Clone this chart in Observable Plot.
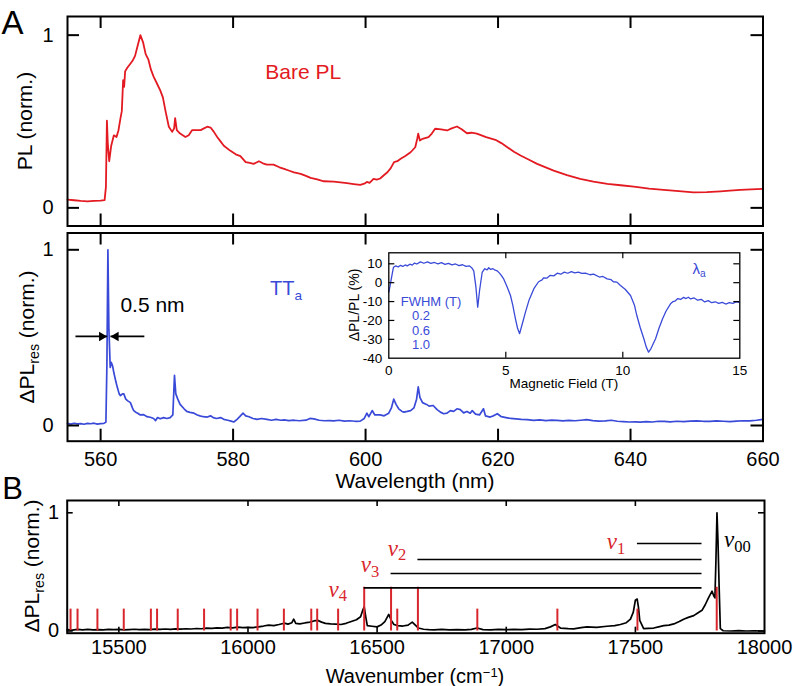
<!DOCTYPE html>
<html><head><meta charset="utf-8">
<script src="https://cdn.jsdelivr.net/npm/d3@7"></script>
<script src="https://cdn.jsdelivr.net/npm/@observablehq/plot@0.6"></script>
<style>
body{margin:0;background:#fff;}
#fig{position:relative;width:793px;height:686px;overflow:hidden;background:#fff;font-family:"Liberation Sans",Arial,Helvetica,sans-serif;color:#000;}
#fig svg{position:absolute;background:transparent;max-width:none;}
.t{position:absolute;white-space:nowrap;line-height:1;transform:translate(-50%,-50%);}
.sub{font-size:0.68em;position:relative;top:0.34em;}
.sup{font-size:0.65em;position:relative;top:-0.5em;}
.nu{font-family:"Liberation Serif","DejaVu Serif",serif;font-style:italic;}
.nu .s{font-style:normal;font-size:0.72em;position:relative;top:0.3em;}
</style></head><body><div id="fig"></div>
<script>
// ---------- DATA ----------
// Panel A (top): bare PL, wavelength (nm) and normalised PL
const plWavelength = [555,556,557,558,559,560,560.6,560.8,560.95,561.1,561.3,561.6,562.0,562.4,562.7,563.0,563.2,563.4,563.55,563.7,564.0,564.4,564.8,565.2,565.6,566.0,566.4,566.8,567.2,567.6,568.0,568.5,569.0,569.4,569.8,570.3,570.8,571.1,571.25,571.5,572.0,572.8,573.3,573.8,574.5,575.1,575.6,576.1,576.6,577.1,577.6,578.1,578.6,579.6,580.4,581.1,581.9,582.5,583.1,583.9,584.5,585.1,586.1,587.0,587.7,588.5,589.2,590.2,591.0,591.7,592.7,593.7,595.2,596.2,597.2,598.2,599.2,599.8,600.2,600.6,601.2,601.7,602.2,602.8,603.3,603.8,604.3,604.8,605.3,606.0,606.8,607.5,607.8,607.95,608.2,608.6,609.5,610.0,610.5,611.4,612.3,613.0,613.8,614.5,615.3,616.0,616.8,618.2,619.6,620.5,621.4,622.4,623.4,624.6,625.9,627.1,628.4,630.4,632.4,634.4,636.5,638.5,640.5,642.8,645.0,647.3,649.5,651.5,653.6,655.0,656.6,658.2,660.0];
const plValue = [0.048,0.044,0.040,0.038,0.040,0.042,0.045,0.12,0.505,0.36,0.27,0.36,0.42,0.41,0.45,0.52,0.56,0.74,0.70,0.79,0.81,0.83,0.85,0.88,0.94,1.0,0.96,0.89,0.86,0.80,0.76,0.72,0.68,0.64,0.56,0.47,0.44,0.46,0.52,0.45,0.43,0.41,0.42,0.45,0.45,0.45,0.46,0.47,0.465,0.44,0.41,0.385,0.36,0.33,0.31,0.30,0.265,0.26,0.255,0.27,0.258,0.25,0.25,0.235,0.226,0.215,0.206,0.197,0.185,0.174,0.165,0.154,0.152,0.148,0.143,0.138,0.133,0.14,0.15,0.145,0.168,0.163,0.17,0.19,0.206,0.23,0.265,0.27,0.284,0.30,0.322,0.351,0.40,0.43,0.39,0.40,0.41,0.43,0.458,0.455,0.448,0.46,0.471,0.455,0.432,0.435,0.43,0.41,0.394,0.375,0.351,0.325,0.303,0.28,0.255,0.236,0.216,0.19,0.168,0.152,0.139,0.131,0.123,0.112,0.104,0.097,0.09,0.091,0.096,0.10,0.104,0.107,0.11];

// Panel A (bottom): resonant ΔPL of TTa
const ttWavelength = [555,555.5,556,556.5,557,557.5,558,558.5,559,559.5,560,560.5,560.8,560.95,561.1,561.25,561.45,561.6,561.8,562.0,562.3,562.5,562.8,563.0,563.3,563.5,563.8,564.1,564.5,564.8,565.0,565.3,565.6,566.0,566.5,567.0,567.5,568.0,568.3,568.6,569.0,569.5,570.0,570.5,570.9,571.15,571.35,571.65,572.0,572.6,573.0,573.5,574.1,574.6,575.0,575.5,576.1,576.6,577.0,577.5,578.1,578.6,579.2,579.7,580.1,580.6,581.0,581.5,581.9,582.4,583.0,583.6,584.3,585.1,585.8,586.5,587.2,587.7,588.4,589.2,590.0,591.0,591.6,592.2,593.0,593.8,594.5,595.2,596.0,596.8,597.6,598.4,599.2,599.8,600.2,600.5,601.0,601.4,602.2,602.8,603.5,603.9,604.25,604.6,605.0,605.5,605.8,606.3,606.8,607.3,607.7,607.95,608.2,608.6,609.2,609.6,610.2,610.8,611.3,611.8,612.3,612.8,613.3,613.8,614.3,614.8,615.3,615.8,616.1,616.6,617.2,617.8,618.1,618.8,619.3,619.9,620.5,621.2,621.9,622.7,623.5,624.4,625.4,626.3,627.2,628.1,628.9,629.8,630.7,631.6,632.5,633.4,634.3,635.2,636.2,637.1,638.0,638.9,639.8,640.7,641.5,642.4,643.3,644.2,645.1,646.0,647.0,648.0,649.0,650.0,651.0,652.0,653.0,654.0,655.0,656.0,657.0,658.0,659.0,660.0];
const ttValue = [0.012,0.008,0.013,0.009,0.011,0.007,0.012,0.010,0.013,0.008,0.011,0.012,0.02,0.35,1.0,0.55,0.33,0.36,0.34,0.30,0.25,0.22,0.18,0.17,0.18,0.18,0.15,0.14,0.13,0.10,0.085,0.076,0.07,0.06,0.062,0.05,0.047,0.04,0.028,0.045,0.038,0.045,0.04,0.045,0.06,0.285,0.18,0.15,0.12,0.095,0.08,0.075,0.07,0.06,0.055,0.05,0.048,0.055,0.045,0.04,0.045,0.035,0.03,0.025,0.02,0.035,0.05,0.07,0.055,0.05,0.04,0.035,0.04,0.035,0.03,0.035,0.03,0.032,0.028,0.03,0.027,0.03,0.04,0.038,0.03,0.027,0.028,0.026,0.03,0.025,0.027,0.024,0.025,0.04,0.07,0.05,0.085,0.06,0.06,0.055,0.07,0.10,0.15,0.12,0.095,0.08,0.076,0.08,0.085,0.10,0.15,0.22,0.16,0.13,0.12,0.11,0.114,0.09,0.076,0.067,0.07,0.085,0.08,0.095,0.09,0.072,0.08,0.07,0.085,0.065,0.06,0.095,0.055,0.048,0.055,0.067,0.05,0.045,0.04,0.038,0.035,0.033,0.029,0.032,0.028,0.03,0.029,0.026,0.029,0.027,0.03,0.033,0.028,0.025,0.026,0.03,0.024,0.022,0.02,0.021,0.019,0.022,0.02,0.024,0.023,0.021,0.024,0.022,0.025,0.026,0.024,0.023,0.026,0.024,0.022,0.025,0.027,0.026,0.03,0.035];

// FWHM marker of the 561 nm line
const fwhmLevel = 0.507;
const fwhmArrowFrom = [556.2, 566.6];
const fwhmArrowTo = [560.99, 561.49];

// Inset: [magnetic field (T), ΔPL/PL (%)]
const insetPoints = [[0,-5],[0.05,-2],[0.12,3],[0.2,8.2],[0.3,8.9],[0.4,8.3],[0.5,9.2],[0.6,8.6],[0.7,9.4],[0.79,8.9],[0.9,9.8],[1.0,9.3],[1.1,10.4],[1.2,9.9],[1.35,11.0],[1.5,10.3],[1.65,11.0],[1.8,10.2],[1.95,10.7],[2.1,10.0],[2.25,10.6],[2.4,9.7],[2.55,10.2],[2.7,9.4],[2.85,9.9],[3.0,9.0],[3.15,9.5],[3.3,8.6],[3.45,8.9],[3.55,7.8],[3.63,6.3],[3.72,-2],[3.8,-13],[3.88,-4],[3.99,5.4],[4.1,7.4],[4.2,6.8],[4.27,7.9],[4.35,7.0],[4.45,7.4],[4.55,6.6],[4.63,6.3],[4.72,5.2],[4.8,4.0],[4.91,2.0],[5.05,-2],[5.2,-6.8],[5.3,-12],[5.41,-19],[5.5,-24],[5.59,-27],[5.7,-22],[5.84,-15.6],[6.0,-9],[6.2,-3.2],[6.4,0.5],[6.55,1.5],[6.62,2.6],[6.75,2.4],[6.9,3.9],[7.05,3.6],[7.2,5.0],[7.35,4.5],[7.5,5.6],[7.65,5.0],[7.8,5.9],[7.95,5.2],[8.1,5.6],[8.25,4.9],[8.4,5.1],[8.6,4.2],[8.75,4.5],[9.0,3.0],[9.15,3.3],[9.33,2.0],[9.5,1.6],[9.6,0.5],[9.75,0.3],[9.9,-1.5],[10.1,-3.5],[10.33,-6.8],[10.5,-12],[10.6,-17.4],[10.75,-24],[10.9,-29.7],[11.0,-34],[11.1,-36.8],[11.2,-35],[11.4,-29.7],[11.55,-24],[11.7,-19.1],[11.85,-15],[12.04,-11.2],[12.15,-10.0],[12.25,-9.6],[12.35,-8.4],[12.47,-8.9],[12.6,-7.8],[12.7,-8.4],[12.8,-7.7],[12.9,-8.6],[13.05,-8.1],[13.2,-9.3],[13.35,-8.8],[13.5,-10.2],[13.65,-9.5],[13.8,-10.6],[13.95,-10.1],[14.1,-11.0],[14.25,-10.4],[14.4,-11.3],[14.55,-10.6],[14.7,-11.0],[14.85,-10.2],[14.96,-10.4]];

// Panel B: ΔPL_res versus wavenumber (cm^-1)
const bWavenumber = [15300,15320,15340,15360,15380,15400,15420,15440,15460,15480,15500,15520,15540,15560,15580,15600,15620,15640,15660,15680,15700,15720,15740,15760,15780,15800,15820,15840,15860,15880,15900,15920,15940,15960,15980,16000,16020,16040,16060,16080,16100,16120,16140,16155,16170,16177,16185,16200,16220,16240,16255,16270,16285,16300,16320,16340,16360,16380,16400,16420,16436,16445,16450,16456,16462,16480,16500,16515,16530,16545,16555,16565,16580,16600,16620,16636,16648,16660,16680,16700,16720,16750,16780,16810,16840,16865,16887,16910,16940,16970,17000,17030,17060,17090,17120,17150,17171,17190,17210,17240,17261,17290,17313,17350,17390,17420,17442,17465,17481,17492,17500,17507,17512,17517,17532,17550,17571,17590,17610,17630,17649,17670,17687,17705,17726,17740,17758,17770,17784,17797,17803,17808,17812,17816,17820,17824,17829,17840,17870,17900,17930,17960,18000];
const bValue = [0.012,0.008,0.014,0.01,0.013,0.009,0.012,0.01,0.014,0.011,0.013,0.009,0.012,0.015,0.011,0.014,0.012,0.016,0.013,0.017,0.014,0.018,0.016,0.019,0.017,0.021,0.019,0.024,0.022,0.026,0.024,0.03,0.027,0.032,0.028,0.031,0.029,0.035,0.042,0.05,0.046,0.055,0.066,0.058,0.07,0.1,0.065,0.06,0.068,0.075,0.085,0.09,0.075,0.065,0.06,0.058,0.055,0.065,0.08,0.095,0.12,0.18,0.205,0.12,0.045,0.04,0.035,0.05,0.08,0.14,0.09,0.055,0.045,0.042,0.05,0.075,0.05,0.025,0.015,0.012,0.01,0.013,0.009,0.012,0.01,0.014,0.025,0.012,0.01,0.013,0.011,0.014,0.012,0.016,0.015,0.02,0.035,0.055,0.025,0.02,0.018,0.028,0.035,0.03,0.04,0.045,0.055,0.07,0.1,0.16,0.26,0.27,0.2,0.09,0.02,0.022,0.025,0.035,0.045,0.05,0.06,0.08,0.1,0.115,0.13,0.15,0.175,0.22,0.285,0.337,0.3,0.28,0.6,1.0,0.75,0.4,0.02,0.002,0.0,0.003,0.0,0.002,0.0];

// Panel B: calculated vibronic positions (red sticks)
const stickShort = [15313,15340,15417,15519,15624,15648,15728,15830,15933,15958,16037,16139,16245,16268,16349,16578,16888,17198,17508];
const stickTall = [16450,16554,16658,17815];
const stickShortHeight = 0.185;
const stickTallHeight = 0.37;

// Panel B: progression bars (ν1, ν2, ν3, ν4)
const progStart = [17508, 16658, 16554, 16450];
const progEnd = 17758;
const progLevel = [0.74, 0.605, 0.487, 0.365];

// Tick values
const aXTicks = [560, 580, 600, 620, 640, 660];
const aYTicks = [0, 1];
const bXTicks = [15500, 16000, 16500, 17000, 17500, 18000];
const bYTicks = [0, 1];
const inXTicks = [0, 5, 10, 15];
const inYTicks = [-40, -30, -20, -10, 0, 10];

// ---------- DRAWING ----------
const FONT = '"Liberation Sans", Arial, Helvetica, sans-serif';
const RED = "#e31a22", BLUE = "#3a4ad8", STICK = "#d8262c";
const fig = document.getElementById("fig");
const zip = (xs, ys) => xs.map((x, i) => ({x, y: ys[i]}));

function place(svg, left, top) {
  svg.style.left = left + "px";
  svg.style.top = top + "px";
  fig.appendChild(svg);
}
function frameTicks(xt, yt, fw, fh, len, sw) {
  const o = {stroke: "#000", strokeWidth: sw};
  return [
    Plot.ruleX(xt, {x: d => d, insetBottom: fh - len, ...o}),
    Plot.ruleX(xt, {x: d => d, insetTop: fh - len, ...o}),
    Plot.ruleY(yt, {y: d => d, insetRight: fw - len, ...o}),
    Plot.ruleY(yt, {y: d => d, insetLeft: fw - len, ...o})
  ];
}
function label(html, cx, cy, size, opts = {}) {
  const d = document.createElement("div");
  d.className = "t";
  d.innerHTML = html;
  d.style.left = cx + "px";
  d.style.top = cy + "px";
  d.style.fontSize = size + "px";
  if (opts.lh) d.style.lineHeight = opts.lh;
  if (opts.color) d.style.color = opts.color;
  if (opts.rotate) d.style.transform = "translate(-50%,-50%) rotate(-90deg)";
  if (opts.start) d.style.transform = "translate(0,-50%)";
  fig.appendChild(d);
}

// Panel A top
{
  const W = 793, H = 232, ml = 67, mr = 793 - 762.5, mt = 16, mb = 232 - 225.5;
  const fw = W - ml - mr, fh = H - mt - mb;
  place(Plot.plot({
    width: W, height: H, marginLeft: ml, marginRight: mr, marginTop: mt, marginBottom: mb,
    x: {domain: [555, 660], axis: null}, y: {domain: [-0.105, 1.108], axis: null},
    style: {fontFamily: FONT, background: "transparent", overflow: "visible"},
    marks: [
      Plot.line(zip(plWavelength, plValue), {x: "x", y: "y", stroke: RED, strokeWidth: 1.8}),
      ...frameTicks(aXTicks.slice(0, 5), aYTicks, fw, fh, 12, 2),
      Plot.frame({stroke: "#000", strokeWidth: 2}),
      Plot.text(aYTicks, {y: d => d, frameAnchor: "left", dx: -14, textAnchor: "end", text: d => String(d), fontSize: 20})
    ]
  }), 0, 0);
}

// Panel A bottom
{
  const W = 793, H = 265, ml = 67, mr = 793 - 762.5, mt = 4.5, mb = 52.3;
  const fw = W - ml - mr, fh = H - mt - mb;
  const shafts = fwhmArrowFrom.map((f, i) => ({x1: f, x2: fwhmArrowTo[i], y: fwhmLevel}));
  place(Plot.plot({
    width: W, height: H, marginLeft: ml, marginRight: mr, marginTop: mt, marginBottom: mb,
    x: {domain: [555, 660], axis: null}, y: {domain: [-0.0894, 1.0956], axis: null},
    style: {fontFamily: FONT, background: "transparent", overflow: "visible"},
    marks: [
      Plot.line(zip(ttWavelength, ttValue), {x: "x", y: "y", stroke: BLUE, strokeWidth: 1.7}),
      Plot.link(shafts, {x1: "x1", x2: "x2", y1: "y", y2: "y", stroke: "#000", strokeWidth: 1.6}),
      Plot.dot(shafts.slice(0, 1), {x: "x2", y: "y", symbol: "triangle", rotate: 90, r: 3.5, dx: -5.4, fill: "#000", stroke: null}),
      Plot.dot(shafts.slice(1), {x: "x2", y: "y", symbol: "triangle", rotate: -90, r: 3.5, dx: 5.4, fill: "#000", stroke: null}),
      ...frameTicks(aXTicks.slice(0, 5), aYTicks, fw, fh, 12, 2),
      Plot.frame({stroke: "#000", strokeWidth: 2}),
      Plot.text(aYTicks, {y: d => d, frameAnchor: "left", dx: -14, textAnchor: "end", text: d => String(d), fontSize: 20}),
      Plot.text(aXTicks, {x: d => d, frameAnchor: "bottom", lineAnchor: "top", dy: 11, text: d => String(d), fontSize: 20})
    ]
  }), 0, 228);
}

// Inset
{
  const W = 430, H = 150, ml = 58.3, mr = 20.7, mt = 7.3, mb = 37.3;
  const fw = W - ml - mr, fh = H - mt - mb;
  place(Plot.plot({
    width: W, height: H, marginLeft: ml, marginRight: mr, marginTop: mt, marginBottom: mb,
    x: {domain: [0, 15], axis: null}, y: {domain: [-40, 15.83], axis: null},
    style: {fontFamily: FONT, background: "transparent", overflow: "visible"},
    marks: [
      Plot.line(insetPoints, {x: d => d[0], y: d => d[1], stroke: BLUE, strokeWidth: 1.3}),
      ...frameTicks([5, 10], [-30, -20, -10, 0, 10], fw, fh, 6, 1.2),
      Plot.frame({stroke: "#000", strokeWidth: 1.3}),
      Plot.text(inYTicks, {y: d => d, frameAnchor: "left", dx: -6.5, textAnchor: "end", text: d => String(d), fontSize: 13.5}),
      Plot.text(inXTicks, {x: d => d, frameAnchor: "bottom", lineAnchor: "top", dy: 7, text: d => String(d), fontSize: 13.5})
    ]
  }), 330, 245);
}

// Panel B
{
  const W = 793, H = 191, ml = 66.7, mr = 29, mt = 5, mb = 53.3;
  const fw = W - ml - mr, fh = H - mt - mb;
  place(Plot.plot({
    width: W, height: H, marginLeft: ml, marginRight: mr, marginTop: mt, marginBottom: mb,
    x: {domain: [15300, 18000], axis: null}, y: {domain: [-0.0186, 1.104], axis: null},
    style: {fontFamily: FONT, background: "transparent", overflow: "visible"},
    marks: [
      Plot.line(zip(bWavenumber, bValue), {x: "x", y: "y", stroke: "#000", strokeWidth: 1.7}),
      Plot.ruleX(stickShort, {x: d => d, y1: 0, y2: stickShortHeight, stroke: STICK, strokeWidth: 2}),
      Plot.ruleX(stickTall, {x: d => d, y1: 0, y2: stickTallHeight, stroke: STICK, strokeWidth: 2}),
      Plot.ruleY(progStart.map((s, i) => ({x1: s, x2: progEnd, y: progLevel[i]})), {x1: "x1", x2: "x2", y: "y", stroke: "#000", strokeWidth: 1.6}),
      ...frameTicks(bXTicks.slice(0, 5), bYTicks, fw, fh, 6, 1.6),
      Plot.frame({stroke: "#000", strokeWidth: 2}),
      Plot.text(bYTicks, {y: d => d, frameAnchor: "left", dx: -8, textAnchor: "end", text: d => String(d), fontSize: 20}),
      Plot.text(bXTicks, {x: d => d, frameAnchor: "bottom", lineAnchor: "top", dy: 6.5, text: d => String(d), fontSize: 20})
    ]
  }), 0, 495);
}

// ---------- TEXT ----------
label("A", 12.5, 21.5, 33);
label("B", 12.5, 487.5, 31);
label("PL (norm.)", 23.5, 120.7, 21, {rotate: true});
label('ΔPL<span class="sub">res</span> (norm.)', 26, 336.6, 21, {rotate: true});
label('ΔPL<span class="sub">res</span> (norm.)', 30.5, 566, 21, {rotate: true});
label("Bare PL", 303.3, 70.8, 21, {color: RED});
label('TT<span class="sub">a</span>', 286, 288, 20, {color: BLUE});
label("0.5 nm", 152.5, 303.5, 21);
label("Wavelength (nm)", 415, 480, 21);
label('Wavenumber (cm<span class="sup">−1</span>)', 415, 676, 20);
label("ΔPL/PL (%)", 354, 305, 14, {rotate: true});
label("Magnetic Field (T)", 563.8, 384, 13.5);
label("FWHM (T)", 400.7, 300.5, 13, {color: BLUE, start: true});
label("0.2", 421, 315, 13, {color: BLUE});
label("0.6", 421, 329.5, 13, {color: BLUE});
label("1.0", 421, 344, 13, {color: BLUE});
label('λ<span class="sub">a</span>', 699, 269, 15, {color: BLUE});
label('<span class="nu">ν<span class="s">1</span></span>', 616, 541, 23, {color: STICK});
label('<span class="nu">ν<span class="s">2</span></span>', 397, 547.5, 23, {color: STICK});
label('<span class="nu">ν<span class="s">3</span></span>', 370, 564, 23, {color: STICK});
label('<span class="nu">ν<span class="s">4</span></span>', 337.7, 588.5, 23, {color: STICK});
label('<span class="nu">ν<span class="s">00</span></span>', 737.5, 539, 23, {color: "#000"});
</script>
</body></html>
